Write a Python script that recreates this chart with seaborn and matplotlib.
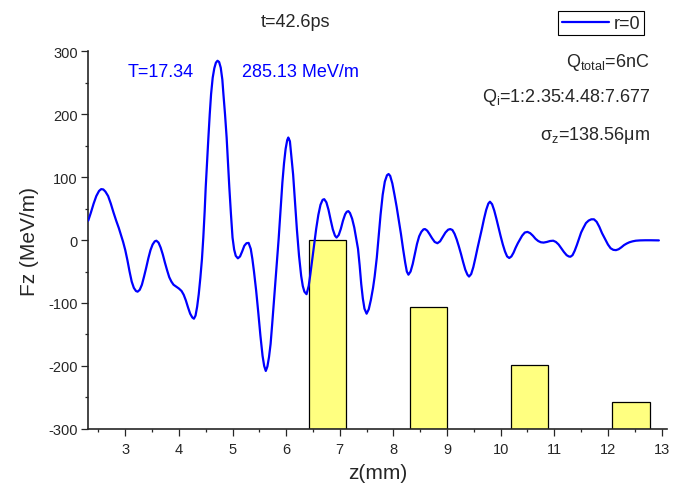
import numpy as np
import pandas as pd
import seaborn as sns
import matplotlib.pyplot as plt
from matplotlib.ticker import MultipleLocator

# longitudinal wake field on axis
z_mm = [2.31, 2.36, 2.41, 2.46, 2.51, 2.55, 2.59, 2.63, 2.68, 2.73, 2.78, 2.83,
        2.88, 2.92, 2.96, 3.00, 3.04, 3.08, 3.12, 3.16, 3.20, 3.23, 3.27, 3.31,
        3.35, 3.39, 3.43, 3.47, 3.51, 3.55, 3.58, 3.62, 3.66, 3.70, 3.74, 3.78,
        3.82, 3.86, 3.90, 3.95, 4.00, 4.05, 4.09, 4.13, 4.17, 4.21, 4.25, 4.28,
        4.31, 4.34, 4.37, 4.40, 4.43, 4.455, 4.48, 4.50, 4.525, 4.55, 4.575, 4.60,
        4.63, 4.66, 4.69, 4.72, 4.75, 4.78, 4.81, 4.83, 4.86, 4.89, 4.915, 4.94,
        4.97, 5.00, 5.03, 5.06, 5.10, 5.14, 5.18, 5.22, 5.26, 5.30, 5.34, 5.37,
        5.40, 5.44, 5.48, 5.52, 5.56, 5.59, 5.62, 5.65, 5.68, 5.71, 5.74, 5.78,
        5.82, 5.86, 5.90, 5.93, 5.96, 5.99, 6.02, 6.04, 6.07, 6.10, 6.13, 6.16,
        6.20, 6.24, 6.28, 6.31, 6.34, 6.38, 6.42, 6.45, 6.48, 6.52, 6.56, 6.60,
        6.64, 6.68, 6.71, 6.75, 6.79, 6.83, 6.87, 6.91, 6.94, 6.98, 7.02, 7.06,
        7.10, 7.13, 7.16, 7.19, 7.23, 7.27, 7.31, 7.34, 7.37, 7.40, 7.43, 7.46,
        7.50, 7.54, 7.58, 7.62, 7.65, 7.69, 7.72, 7.76, 7.80, 7.84, 7.88, 7.91,
        7.94, 7.98, 8.02, 8.06, 8.10, 8.14, 8.18, 8.22, 8.25, 8.28, 8.32, 8.36,
        8.40, 8.44, 8.48, 8.52, 8.56, 8.59, 8.63, 8.67, 8.72, 8.77, 8.82, 8.87,
        8.92, 8.97, 9.02, 9.06, 9.10, 9.14, 9.18, 9.22, 9.26, 9.30, 9.34, 9.38,
        9.41, 9.45, 9.49, 9.53, 9.57, 9.61, 9.65, 9.69, 9.73, 9.77, 9.80, 9.84,
        9.88, 9.92, 9.96, 10.00, 10.04, 10.08, 10.12, 10.16, 10.20, 10.24, 10.28, 10.32,
        10.36, 10.40, 10.45, 10.50, 10.55, 10.60, 10.65, 10.70, 10.75, 10.80, 10.86, 10.92,
        10.98, 11.03, 11.08, 11.13, 11.18, 11.23, 11.27, 11.30, 11.34, 11.38, 11.42, 11.46,
        11.50, 11.54, 11.59, 11.64, 11.69, 11.74, 11.79, 11.84, 11.89, 11.95, 12.00, 12.05,
        12.10, 12.15, 12.20, 12.25, 12.30, 12.35, 12.40, 12.46, 12.52, 12.60, 12.70, 12.80,
        12.90, 12.95]
fz = [31, 44, 58, 70, 78, 81, 80.5, 77, 70, 58, 44, 31,
      19, 8, -3, -16, -32, -50, -66, -76, -81, -82, -79, -71,
      -58, -44, -29, -16, -7, -2, -1, -4, -12, -23, -36, -48,
      -59, -66, -71, -74, -77, -81, -87, -96, -107, -117, -123, -125,
      -120, -106, -86, -60, -30, 4, 45, 84, 124, 163, 200, 232,
      258, 273, 282, 285, 283, 274, 255, 232, 200, 163, 124, 84,
      42, 4, -15, -25, -29, -26, -18, -9, -5, -4.5, -14, -30,
      -50, -80, -115, -152, -184, -200, -208, -201, -186, -165, -133, -88,
      -43, 2, 52, 92, 122, 145, 159, 163, 157, 130, 104, 67,
      17, -25, -57, -73, -82, -86, -73, -55, -35, -8, 18, 40,
      56, 64, 65, 60, 48, 32, 17, 7, 4, 8, 18, 31,
      41, 45, 46, 43, 34, 20, 0, -14, -40, -70, -93, -109,
      -117, -110, -95, -76, -58, -28, 2, 40, 72, 93, 103, 105,
      102, 90, 72, 53, 32, 10, -14, -36, -50, -55, -50, -38,
      -22, -6, 6, 13, 17, 17.5, 15, 10, 3, -3, -5, -2,
      5, 12, 16.5, 17.5, 16, 10, 1, -10, -22, -35, -47, -55,
      -58, -54, -43, -28, -12, 3, 18, 34, 48, 58, 61, 57,
      47, 34, 20, 6, -7, -18, -26, -28.5, -26, -20, -12, -5,
      1, 7, 12, 13, 11, 7, 2, -1.5, -3.5, -4, -3, -1.5,
      -1, -3, -7, -13, -19, -24, -26, -26.5, -24, -17, -8, 2,
      12, 19, 27, 31, 33, 33, 29, 21, 11, 1, -7, -13,
      -15.5, -16, -14.5, -11.5, -8, -5.5, -3.5, -2, -1, -0.5, -0.3, -0.3,
      -0.5, -0.5]

# bunch positions (bars)
bar_z = [6.77, 8.65, 10.54, 12.43]
bar_top = [0, -107, -198, -257]
bar_base = -300

sns.set_style('ticks')
plt.rcParams['font.family'] = ['Liberation Sans', 'DejaVu Sans']
plt.rcParams['mathtext.fontset'] = 'custom'
plt.rcParams['mathtext.rm'] = 'Liberation Sans'
plt.rcParams['axes.unicode_minus'] = False

fig = plt.figure(figsize=(6.79, 4.89), dpi=100)
ax = fig.add_axes([0.130, 0.121, 0.853, 0.772])

heights = [t - bar_base for t in bar_top]
ax.bar(bar_z, heights, bottom=bar_base, width=0.70, color='#FFFF80',
       edgecolor='black', linewidth=0.9, zorder=1)

df = pd.DataFrame({'z': z_mm, 'Fz': fz})
sns.lineplot(data=df, x='z', y='Fz', color='#0000FF', lw=1.6, sort=False,
             estimator=None, ax=ax, label='r=0', zorder=3)

ax.set_xlim(2.31, 13.11)
ax.set_ylim(-300, 300)
ax.xaxis.set_major_locator(MultipleLocator(1))
ax.xaxis.set_minor_locator(MultipleLocator(0.5))
ax.yaxis.set_major_locator(MultipleLocator(100))
ax.yaxis.set_minor_locator(MultipleLocator(50))
ax.tick_params(which='major', length=5, width=0.9, labelsize=10.5)
ax.tick_params(axis='x', which='major', pad=4.5)
ax.tick_params(axis='y', which='major', pad=2.5)
ax.tick_params(which='minor', length=2.5, width=0.9)
sns.despine(ax=ax)
for s in ['left', 'bottom']:
    ax.spines[s].set_linewidth(1.2)

ax.set_xlabel('z(mm)', fontsize=15, labelpad=5)
ax.set_ylabel('Fz (MeV/m)', fontsize=15, labelpad=7)

leg = ax.legend(loc='upper right', bbox_to_anchor=(0.949, 0.975),
                bbox_transform=fig.transFigure, frameon=True, fancybox=False,
                edgecolor='black', framealpha=1, fontsize=13, handlelength=2.6,
                borderpad=0.2, handletextpad=0.3, borderaxespad=0)
leg.get_frame().set_linewidth(0.8)

fig.text(0.4345, 0.945, 't=42.6ps', fontsize=13, ha='center', va='baseline')
fig.text(0.188, 0.842, 'T=17.34', fontsize=13, color='#0000FF', va='baseline')
fig.text(0.356, 0.842, '285.13 MeV/m', fontsize=13, color='#0000FF', va='baseline')
fig.text(0.956, 0.8636, r'Q$_\mathrm{total}$=6nC', fontsize=13, ha='right', va='baseline')
fig.text(0.959, 0.792, r'Q$_\mathrm{i}$=1:2.35:4.48:7.677', fontsize=13, ha='right', va='baseline')
fig.text(0.957, 0.7137, r'σ$_\mathrm{z}$=138.56μm', fontsize=13, ha='right', va='baseline')

fig.savefig('out.png', dpi=100)
